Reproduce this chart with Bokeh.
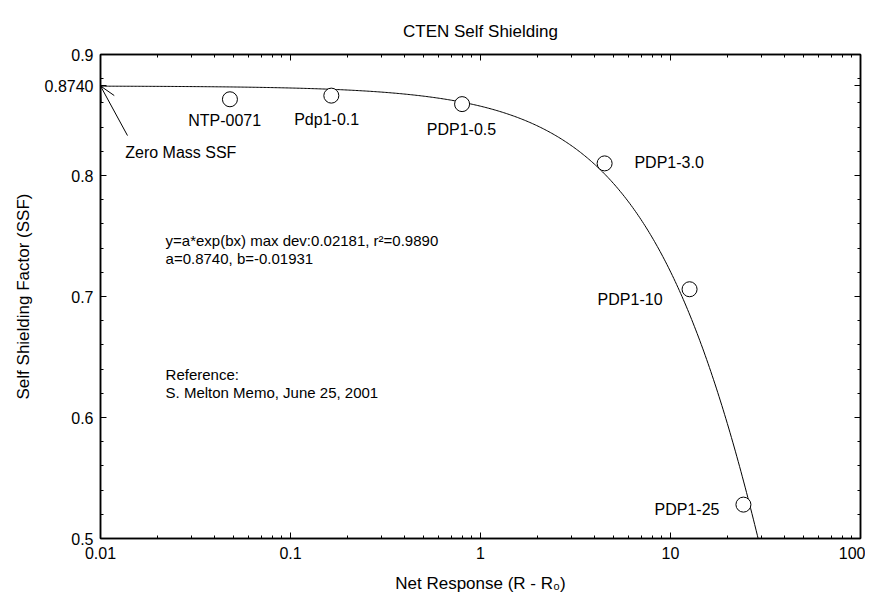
import numpy as np
from bokeh.plotting import figure
from bokeh.models import (FixedTicker, LinearAxis, LogAxis, Label, Arrow, OpenHead, Range1d,
                          CustomJSTickFormatter)
from bokeh.embed import file_html
from bokeh.resources import INLINE

# ---------------- data ----------------
sample_names = ["NTP-0071", "Pdp1-0.1", "PDP1-0.5", "PDP1-3.0", "PDP1-10", "PDP1-25"]
net_response = [0.048, 0.164, 0.80, 4.5, 12.6, 24.2]
ssf = [0.863, 0.866, 0.859, 0.810, 0.706, 0.528]

fit_a = 0.8740
fit_b = -0.01931

x_ticks = [0.01, 0.1, 1, 10, 100]
x_tick_labels = ["0.01", "0.1", "1", "10", "100"]
y_ticks = [0.5, 0.6, 0.7, 0.8, 0.874, 0.9]
y_tick_labels = ["0.5", "0.6", "0.7", "0.8", "0.8740", "0.9"]

# ---------------- styles / layout ----------------
FONT = "Liberation Sans"
TICK_FS = "16px"
ANN_FS = "15px"
PT_FS = "16px"

x_minor = [m * 10.0 ** e for e in range(-2, 2) for m in range(2, 10)]
y_minor = [round(0.5 + 0.02 * i, 2) for i in range(1, 20)]

p = figure(width=865, height=595, x_axis_type="log",
           x_range=Range1d(0.01, 100), y_range=Range1d(0.5, 0.9),
           output_backend="svg", toolbar_location=None,
           min_border_left=100, min_border_right=5,
           min_border_top=54, min_border_bottom=57)
p.xgrid.visible = False
p.ygrid.visible = False
p.outline_line_color = "black"
p.outline_line_width = 1.5
p.background_fill_color = "white"
p.border_fill_color = "white"


def make_formatter(tv, tl):
    return CustomJSTickFormatter(args=dict(tv=tv, tl=tl), code="""
        let best = 0, bd = Infinity;
        for (let i = 0; i < tv.length; i++) {
            const d = Math.abs(tv[i] - tick) / Math.abs(tv[i]);
            if (d < bd) { bd = d; best = i; }
        }
        return tl[best];
    """)


def style_axis(ax, tv, minor, tl, show_labels=True):
    ax.ticker = FixedTicker(ticks=tv, minor_ticks=minor)
    ax.formatter = make_formatter(tv, tl)
    ax.axis_line_color = "black"
    ax.axis_line_width = 1.5
    ax.major_tick_in = 6
    ax.major_tick_out = 0
    ax.minor_tick_in = 3
    ax.minor_tick_out = 0
    ax.major_tick_line_color = "black"
    ax.minor_tick_line_color = "black"
    ax.major_label_text_font = FONT
    ax.major_label_text_font_size = TICK_FS
    ax.major_label_text_color = "black"
    ax.axis_label_text_font = FONT
    ax.axis_label_text_font_size = "17px"
    ax.axis_label_text_font_style = "normal"
    ax.axis_label_text_color = "black"
    if not show_labels:
        ax.major_label_text_font_size = "1px"
        ax.major_label_text_alpha = 0
        ax.major_label_standoff = 0


xa = p.xaxis[0]
style_axis(xa, x_ticks, x_minor, x_tick_labels)
xa.major_label_standoff = 8
xa.axis_label = "Net Response (R - R\u2080)"
xa.axis_label_standoff = 12

ya = p.yaxis[0]
style_axis(ya, y_ticks, y_minor, y_tick_labels)
ya.major_label_standoff = 7
ya.axis_label = "Self Shielding Factor (SSF)"
ya.axis_label_standoff = 9

top = LogAxis()
style_axis(top, x_ticks, x_minor, x_tick_labels, show_labels=False)
p.add_layout(top, "above")
right = LinearAxis()
style_axis(right, y_ticks, y_minor, y_tick_labels, show_labels=False)
p.add_layout(right, "right")

p.title.text = "CTEN Self Shielding"
p.title.align = "center"
p.title.offset = 12
p.title.text_font = FONT
p.title.text_font_size = "17px"
p.title.text_font_style = "normal"
p.title.text_color = "black"
p.title.standoff = 28

# fitted curve y = a*exp(b*x), drawn from the fit parameters stated on the chart
xs = np.logspace(-2, np.log10(40), 500)
ys = fit_a * np.exp(fit_b * xs)
p.line(xs, ys, line_color="black", line_width=1)

p.scatter(net_response, ssf, marker="circle", size=15, fill_color="white",
          line_color="black", line_width=1)

# point labels: (x, y, align)
label_pos = [(0.045, 0.8455, "center"), (0.155, 0.846, "center"), (0.794, 0.838, "center"),
             (6.46, 0.8107, "left"), (9.08, 0.6975, "right"), (18.1, 0.524, "right")]
for name, (lx, ly, al) in zip(sample_names, label_pos):
    p.add_layout(Label(x=lx, y=ly, text=name, text_align=al, text_baseline="middle",
                       text_font=FONT, text_font_size=PT_FS, text_color="black"))

# zero mass annotation
p.add_layout(Arrow(end=OpenHead(size=15, line_width=1, line_color="black"),
                   x_start=0.01387, y_start=0.833, x_end=0.01, y_end=fit_a,
                   line_width=1, line_color="black"))
p.add_layout(Label(x=0.0135, y=0.819, text="Zero Mass SSF", text_align="left",
                   text_baseline="middle", text_font=FONT, text_font_size=PT_FS,
                   text_color="black"))

texts = [
    (0.022, 0.7463, "y=a*exp(bx) max dev:0.02181, r\u00b2=0.9890"),
    (0.022, 0.7314, "a=0.8740, b=-0.01931"),
    (0.022, 0.6355, "Reference:"),
    (0.022, 0.6207, "S. Melton Memo, June 25, 2001"),
]
for tx, ty, tt in texts:
    p.add_layout(Label(x=tx, y=ty, text=tt, text_align="left", text_baseline="middle",
                       text_font=FONT, text_font_size=ANN_FS, text_color="black"))

open("out.html", "w").write(file_html(p, INLINE))
